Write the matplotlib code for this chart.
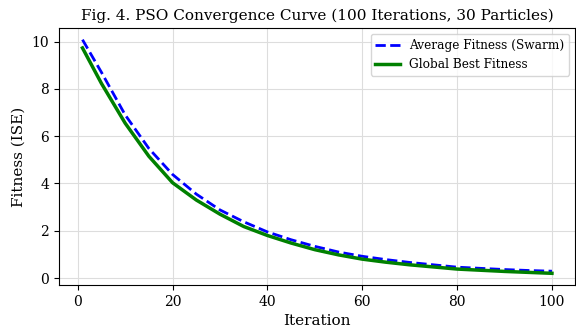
import numpy as np
import matplotlib.pyplot as plt

plt.rcParams['font.family'] = 'DejaVu Serif'

# values
iters = [1, 5, 10, 15, 20, 25, 30, 35, 40, 45, 50, 55, 60, 65, 70, 75, 80, 85, 90, 95, 100]
avg_fit = [10.08, 8.7, 6.9, 5.48, 4.38, 3.55, 2.88, 2.38, 1.95, 1.62, 1.34, 1.1, 0.92,
           0.78, 0.66, 0.56, 0.46, 0.41, 0.36, 0.32, 0.29]
best_fit = [9.73, 8.23, 6.55, 5.15, 4.03, 3.3, 2.7, 2.18, 1.8, 1.48, 1.2, 0.98, 0.8,
            0.67, 0.56, 0.47, 0.38, 0.33, 0.28, 0.24, 0.2]

fig = plt.figure(figsize=(5.76, 3.33), dpi=100)
ax = fig.add_axes([59/576, 1 - 285/333, 1 - 59/576 - 0.001, (285 - 28)/333])

ax.plot(iters, avg_fit, '--', color='blue', lw=2, label='Average Fitness (Swarm)')
ax.plot(iters, best_fit, '-', color='green', lw=2.5, label='Global Best Fitness')

ax.set_title('Fig. 4. PSO Convergence Curve (100 Iterations, 30 Particles)', fontsize=11)
ax.set_xlabel('Iteration', fontsize=11)
ax.set_ylabel('Fitness (ISE)', fontsize=11)
ax.tick_params(labelsize=10)
ax.grid(True, color='#dddddd', lw=0.8)
ax.legend(fontsize=8.7, loc='upper right')

fig.savefig('out.png', dpi=100)
